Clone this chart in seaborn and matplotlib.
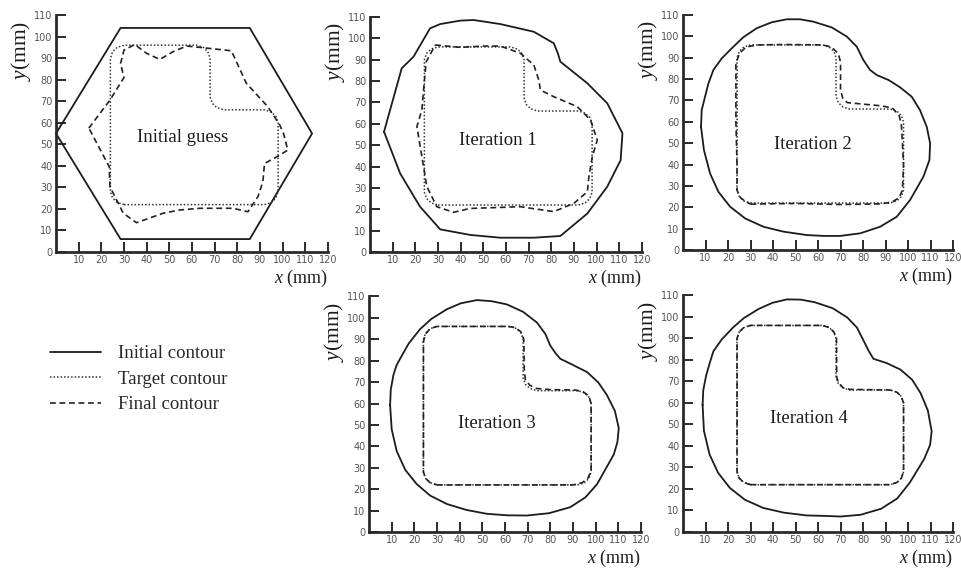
import matplotlib
matplotlib.use("Agg")
import matplotlib.pyplot as plt
import seaborn as sns
from matplotlib.lines import Line2D

# ---------------- data (mm) ----------------
TARGET_X = [30, 92, 95, 97, 98, 98, 97, 95, 92, 74, 71, 69, 68, 68, 67, 65, 62, 30, 27, 25, 24, 24, 25, 27, 30]
TARGET_Y = [22, 22, 23, 25, 28, 60, 63, 65, 66, 66, 67, 69, 72, 90, 93, 95, 96, 96, 95, 93, 90, 28, 25, 23, 22]

HEX_X = [0, 28.5, 85.5, 113, 85.5, 28.5, 0]
HEX_Y = [55, 104, 104, 55, 6, 6, 55]

GUESS_X = [14.5, 23.8, 30, 28.5, 30, 34.8, 40, 45.8, 51.7, 57.6, 63.4, 77.4, 84, 93.5, 98.7, 100.4, 102.3,
           97.5, 92, 91.3, 89.1, 84.7, 78.1, 63.4, 54.6, 47.3, 35.5, 29.7, 23.8, 23.5, 14.5]
GUESS_Y = [57.5, 70.5, 81, 87.5, 93.7, 96.3, 92.2, 89.4, 93, 95.6, 95, 93.4, 78.3, 67.4, 59, 55, 47.3,
           44.2, 41.1, 32.6, 25.7, 18.7, 20.3, 20.3, 19.5, 18, 13.6, 18, 30.3, 39.6, 57.5]

IT1_INIT_X = [6.2, 14, 19.2, 26.5, 31, 39.8, 45.7, 57.5, 72.3, 81.1, 82.9, 84, 95.9, 104.7, 111.4, 110.6,
              104.7, 95.9, 84, 72.3, 57.5, 44.2, 31, 22.1, 13.3, 6.2]
IT1_INIT_Y = [56.3, 86, 91.4, 104.7, 106.7, 108.3, 108.6, 106.7, 103.1, 97.7, 93, 89.1, 79, 69.6, 55.6, 43,
              30.6, 18, 7.5, 6.7, 6.7, 8, 10.6, 21.2, 36.8, 56.3]
IT1_FINAL_X = [28.8, 40, 50, 57.5, 66.4, 72.3, 74.5, 75.2, 81.1, 91.5, 97.3, 100.3, 98.1, 96.6, 95.9, 90,
               81.1, 66.4, 44.2, 36.9, 29.5, 25.1, 22.9, 20.7, 22.9, 23.9, 24.8, 28.8]
IT1_FINAL_Y = [96.9, 95.8, 96.4, 96.4, 93, 87.5, 80.5, 75.8, 72.7, 68, 61.8, 52.4, 44.6, 35.3, 28.2, 22.8,
               18.9, 21.2, 20.4, 18.6, 21.2, 30.6, 44.6, 58.7, 66.5, 79, 89, 96.9]

IT2_INIT_X = [8, 8.3, 9.8, 11.3, 13.5, 17.2, 22.4, 26.8, 32.7, 39.4, 46.1, 52, 57.9, 66.1, 72.8, 77.2, 80.1,
              83.1, 86.1, 91.3, 96.4, 101.6, 105.3, 108.3, 109.8, 109.5, 106.8, 100.9, 95, 87.6, 78.7, 69.8,
              62.4, 55, 44.6, 35.7, 27.6, 20.9, 15.7, 12, 9.3, 8]
IT2_INIT_Y = [57.7, 65.5, 71.8, 78, 84.3, 89.7, 95.2, 99.6, 103.8, 106.6, 108, 108, 106.9, 104.2, 99.9, 95.2,
              89, 84.3, 81.9, 79.6, 76.2, 71.8, 65.5, 57.7, 50, 42.1, 34.3, 23.4, 15.6, 10.9, 7.8, 6.6,
              6.6, 7, 8.6, 10.9, 14.8, 20.3, 27.3, 35.9, 46.8, 57.7]
IT2_FINAL_X = [30, 50, 70, 88, 93, 96, 97.5, 98, 97.5, 97, 96, 93, 88, 78, 73, 71, 70, 70, 69, 66, 62, 45,
               33, 28, 25, 23.5, 23.5, 24, 24, 25.5, 28, 30]
IT2_FINAL_Y = [21.5, 21.8, 21.3, 21.6, 22.5, 24.5, 28, 40, 50, 59, 63, 66.5, 67.5, 68.5, 69, 71, 75, 88, 92,
               95, 96, 96.2, 96, 95, 92, 87, 60, 40, 28, 24.5, 22.5, 21.5]

IT3_INIT_X = [9.3, 9.6, 10.8, 12.2, 13.7, 17.5, 22.5, 27.5, 34.3, 40.5, 47.6, 54, 60.8, 68, 74.1, 77.8, 80,
              82.3, 84.4, 90, 96.2, 101.2, 105, 108.5, 110.2, 109.6, 108, 100.6, 95.5, 88.8, 79.5, 69.7,
              61, 52, 43, 34.3, 27, 21.1, 16, 12.2, 10, 9.3]
IT3_INIT_Y = [59.3, 66.5, 73.5, 78, 80.9, 88, 94.7, 99.5, 104, 106.8, 108.3, 107.8, 106.3, 102.8, 97.8, 92.5,
              87, 83.5, 80.9, 78, 74.7, 69.8, 63.9, 56.5, 48.5, 42, 36.2, 22.3, 16.2, 11.6, 8.8, 7.7,
              7.8, 8.5, 10.3, 13.1, 17, 22.3, 29, 37.8, 48, 59.3]
IT3_FINAL_X = [30, 60, 90, 94, 96.5, 98, 98, 98, 97, 94.5, 91, 80, 74, 71, 69, 68.5, 68.3, 67, 64.5, 61, 40,
               30, 27, 25, 24, 24, 24, 25, 27, 30]
IT3_FINAL_Y = [22, 22, 22, 23, 25, 28.5, 45, 60, 63.5, 65.5, 66.3, 66.5, 67, 68.5, 71, 76, 90, 93.5, 95.5,
               96, 96, 96, 95, 92.5, 89, 50, 28, 25, 23, 22]

IT4_INIT_X = [8.7, 9, 10.3, 11.8, 13.5, 17.3, 22.2, 27, 33.5, 39.7, 46.1, 52.3, 58.5, 66.5, 73, 77.3, 80.2,
              82.6, 84.6, 90.5, 96.6, 101.8, 105.6, 108.8, 110.5, 109.8, 107.2, 100.8, 95.2, 88, 78.9, 70,
              62.5, 55, 44.8, 35.6, 27.5, 20.8, 15.6, 11.8, 9.3, 8.7]
IT4_INIT_Y = [59, 66, 72.8, 78.3, 84, 89.6, 95, 99.4, 103.6, 106.5, 108.1, 108, 106.8, 104, 99.7, 95,
              89, 84, 80.5, 78.5, 75.5, 70.8, 64.5, 56.5, 46.8, 40.5, 34, 23, 15.6, 10.8, 8, 7.2,
              7.5, 7.7, 9, 11.2, 15, 20.5, 27.5, 36, 47, 59]
IT4_FINAL_X = [30, 92, 95, 97, 98, 98, 97, 95, 92, 74, 71, 69, 68.3, 68.2, 67, 65, 62, 30, 27, 25, 24, 24, 25,
               27, 30]
IT4_FINAL_Y = [22, 22, 23, 25, 28, 60, 63, 65, 66, 66.3, 67.2, 69.5, 72, 90, 93, 95, 96, 96, 95, 93, 90, 28,
               25, 23, 22]

PANEL_TITLES = ["Initial guess", "Iteration 1", "Iteration 2", "Iteration 3", "Iteration 4"]
LEGEND_LABELS = ["Initial contour", "Target contour", "Final contour"]
X_TICKS = [10, 20, 30, 40, 50, 60, 70, 80, 90, 100, 110, 120]
Y_TICKS = [0, 10, 20, 30, 40, 50, 60, 70, 80, 90, 100, 110]

panels = [
    (HEX_X, HEX_Y, GUESS_X, GUESS_Y),
    (IT1_INIT_X, IT1_INIT_Y, IT1_FINAL_X, IT1_FINAL_Y),
    (IT2_INIT_X, IT2_INIT_Y, IT2_FINAL_X, IT2_FINAL_Y),
    (IT3_INIT_X, IT3_INIT_Y, IT3_FINAL_X, IT3_FINAL_Y),
    (IT4_INIT_X, IT4_INIT_Y, IT4_FINAL_X, IT4_FINAL_Y),
]
label_pos = [(56, 53), (56.5, 52.4), (57.5, 49.6), (56.5, 50.5), (56, 52.7)]

# ---------------- style ----------------
sns.set_theme(style="ticks")
plt.rcParams['font.family'] = ['DejaVu Sans']
plt.rcParams['mathtext.fontset'] = 'custom'
plt.rcParams['mathtext.it'] = 'Liberation Serif:italic'
plt.rcParams['mathtext.rm'] = 'Liberation Serif'

SERIF = 'Liberation Serif'
INK = '#1c1c1c'
SOLID = dict(color=INK, linewidth=1.3, linestyle='-')
DOTTED = dict(color='#333333', linewidth=1.1, linestyle=(0, (1, 1.3)))
DASHED = dict(color='#222222', linewidth=1.2, linestyle=(0, (3.5, 2.2)))

fig = plt.figure(figsize=(9.62, 5.69), dpi=100)
fig.patch.set_facecolor('white')

rects = [
    [0.0582, 0.5571, 0.2827, 0.4165],
    [0.3846, 0.5571, 0.2827, 0.4130],
    [0.7100, 0.5606, 0.2807, 0.4130],
    [0.3836, 0.0650, 0.2827, 0.4140],
    [0.7100, 0.0650, 0.2807, 0.4160],
]

for i, (rect, (ix, iy, fx, fy)) in enumerate(zip(rects, panels)):
    ax = fig.add_axes(rect)
    sns.lineplot(x=ix, y=iy, sort=False, estimator=None, ax=ax, **SOLID)
    sns.lineplot(x=TARGET_X, y=TARGET_Y, sort=False, estimator=None, ax=ax, **DOTTED)
    sns.lineplot(x=fx, y=fy, sort=False, estimator=None, ax=ax, **DASHED)
    ax.set_xlim(0, 120)
    ax.set_ylim(0, 110)
    ax.set_xticks(X_TICKS)
    ax.set_yticks(Y_TICKS)
    ax.set_xticklabels([str(t) for t in X_TICKS])
    ax.set_yticklabels([str(t) for t in Y_TICKS])
    for s in ['top', 'right']:
        ax.spines[s].set_visible(False)
    for s in ['left', 'bottom']:
        ax.spines[s].set_linewidth(2.0)
        ax.spines[s].set_color('#2a2a2a')
    ax.tick_params(direction='in', length=7, width=1.4, color='#2a2a2a',
                   labelsize=7, labelcolor='#555555', pad=2.5)
    ax.set_xlabel('')
    ax.set_ylabel('')
    ax.set_facecolor('none')
    for line in ax.lines:
        line.set_clip_on(False)
    ax.text(1.0, -0.066, r'$x$ (mm)', transform=ax.transAxes, ha='right', va='top',
            fontsize=13, family=SERIF, color=INK)
    ax.text(-0.13, 0.85, r'$y$(mm)', transform=ax.transAxes, ha='center', va='center',
            rotation=90, fontsize=15.5, family=SERIF, color=INK)
    tx, ty = label_pos[i]
    ax.text(tx, ty, PANEL_TITLES[i], ha='center', va='center', fontsize=13.5,
            family=SERIF, color=INK)

handles = [Line2D([], [], **SOLID), Line2D([], [], **DOTTED), Line2D([], [], **DASHED)]
fig.legend(handles, LEGEND_LABELS, loc='upper left', bbox_to_anchor=(50 / 962, 1 - 345 / 569),
           frameon=False, handlelength=2.7, handletextpad=0.9, labelspacing=0.45,
           borderpad=0, borderaxespad=0, prop={'family': SERIF, 'size': 13.5})

fig.savefig('out.png', dpi=100, facecolor='white')
